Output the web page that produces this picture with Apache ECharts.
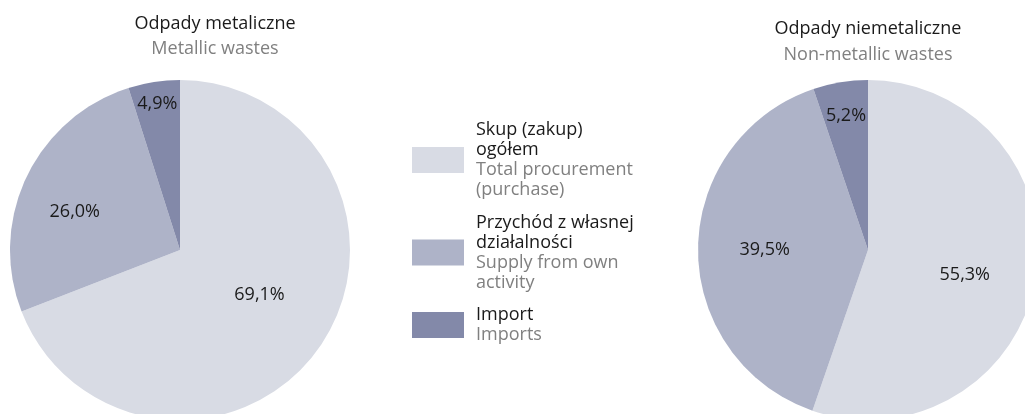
<!DOCTYPE html>
<html>
<head>
<meta charset="utf-8">
<script src="https://cdn.jsdelivr.net/npm/echarts@6/dist/echarts.min.js"></script>
<style>
html,body{margin:0;padding:0;background:#fff;}
#chart{width:1025px;height:414px;}
</style>
</head>
<body>
<div id="chart"></div>
<script>
// ---- data ----
const categories = ['Skup (zakup) ogółem', 'Przychód z własnej działalności', 'Import'];
const legendLinesPl = [['Skup (zakup)', 'ogółem'], ['Przychód z własnej', 'działalności'], ['Import']];
const legendLinesEn = [['Total procurement', '(purchase)'], ['Supply from own', 'activity'], ['Imports']];
const metallicValues = [69.1, 26.0, 4.9];
const nonMetallicValues = [55.3, 39.5, 5.2];
const titlesPl = ['Odpady metaliczne', 'Odpady niemetaliczne'];
const titlesEn = ['Metallic wastes', 'Non-metallic wastes'];

// ---- style ----
const colors = ['#d8dbe4', '#aeb3c8', '#8389a9'];
const FONT = '"Open Sans", sans-serif';
const R = 170;
// label placement: radial fraction of radius, angular shift (deg) from slice middle
const labelRadialMetallic = [0.52, 0.64, 0.85];
const labelShiftMetallic = [-5, -6, 0];
const labelRadialNonMetallic = [0.57, 0.59, 0.78];
const labelShiftNonMetallic = [5, 0, 0];

function labelOffsets(values, factors, shifts) {
  const total = values.reduce((a, b) => a + b, 0);
  let cum = 0;
  return values.map((v, i) => {
    const m = (cum + v / 2) / total;
    cum += v;
    const a = m * 2 * Math.PI;
    const b = a + shifts[i] * Math.PI / 180;
    const k = factors[i] * R;
    const tx = k * Math.sin(b), ty = -k * Math.cos(b);
    const dx = (R / 2) * Math.sin(a), dy = -(R / 2) * Math.cos(a);
    return [tx - dx, ty - dy];
  });
}

function buildData(values, factors, shifts) {
  const offs = labelOffsets(values, factors, shifts);
  return values.map((v, i) => ({
    name: categories[i],
    value: v,
    label: { offset: offs[i] }
  }));
}

function fmt(v) { return v.toFixed(1).replace('.', ',') + '%'; }

function pieSeries(values, factors, shifts, center) {
  return {
    type: 'pie',
    center: center,
    radius: [0, R],
    startAngle: 90,
    clockwise: true,
    avoidLabelOverlap: false,
    silent: true,
    animation: false,
    itemStyle: { borderWidth: 0 },
    label: {
      show: true,
      position: 'inside',
      fontFamily: FONT,
      fontSize: 18,
      color: '#1a1a1a',
      formatter: p => fmt(p.value)
    },
    labelLine: { show: false },
    emphasis: { disabled: true },
    data: buildData(values, factors, shifts)
  };
}

const chart = echarts.init(document.getElementById('chart'), null, { renderer: 'canvas' });
chart.setOption({
  animation: false,
  color: colors,
  title: [
    {
      text: titlesPl[0], subtext: titlesEn[0],
      left: 215, top: 13, textAlign: 'center', itemGap: 4, padding: 0,
      textStyle: { fontFamily: FONT, fontSize: 18, fontWeight: 'normal', color: '#1a1a1a', lineHeight: 21 },
      subtextStyle: { fontFamily: FONT, fontSize: 18, color: '#808080', lineHeight: 21 }
    },
    {
      text: titlesPl[1], subtext: titlesEn[1],
      left: 868, top: 18, textAlign: 'center', itemGap: 5, padding: 0,
      textStyle: { fontFamily: FONT, fontSize: 18, fontWeight: 'normal', color: '#1a1a1a', lineHeight: 21 },
      subtextStyle: { fontFamily: FONT, fontSize: 18, color: '#808080', lineHeight: 21 }
    }
  ],
  legend: {
    orient: 'vertical',
    left: 412,
    top: 121,
    padding: 0,
    itemWidth: 52,
    itemHeight: 26,
    itemGap: 14.5,
    icon: 'rect',
    selectedMode: false,
    data: categories,
    formatter: name => {
      const i = categories.indexOf(name);
      const pl = legendLinesPl[i].map(s => '{pl|' + s + '}');
      const en = legendLinesEn[i].map(s => '{en|' + s + '}');
      return pl.concat(en).join('\n');
    },
    textStyle: {
      fontFamily: FONT,
      fontSize: 18,
      padding: [0, 0, 0, 7],
      rich: {
        pl: { fontFamily: FONT, fontSize: 18, color: '#1a1a1a', lineHeight: 20 },
        en: { fontFamily: FONT, fontSize: 18, color: '#808080', lineHeight: 20 }
      }
    }
  },
  series: [
    pieSeries(metallicValues, labelRadialMetallic, labelShiftMetallic, [180, 250]),
    pieSeries(nonMetallicValues, labelRadialNonMetallic, labelShiftNonMetallic, [868, 250])
  ]
});
</script>
</body>
</html>
